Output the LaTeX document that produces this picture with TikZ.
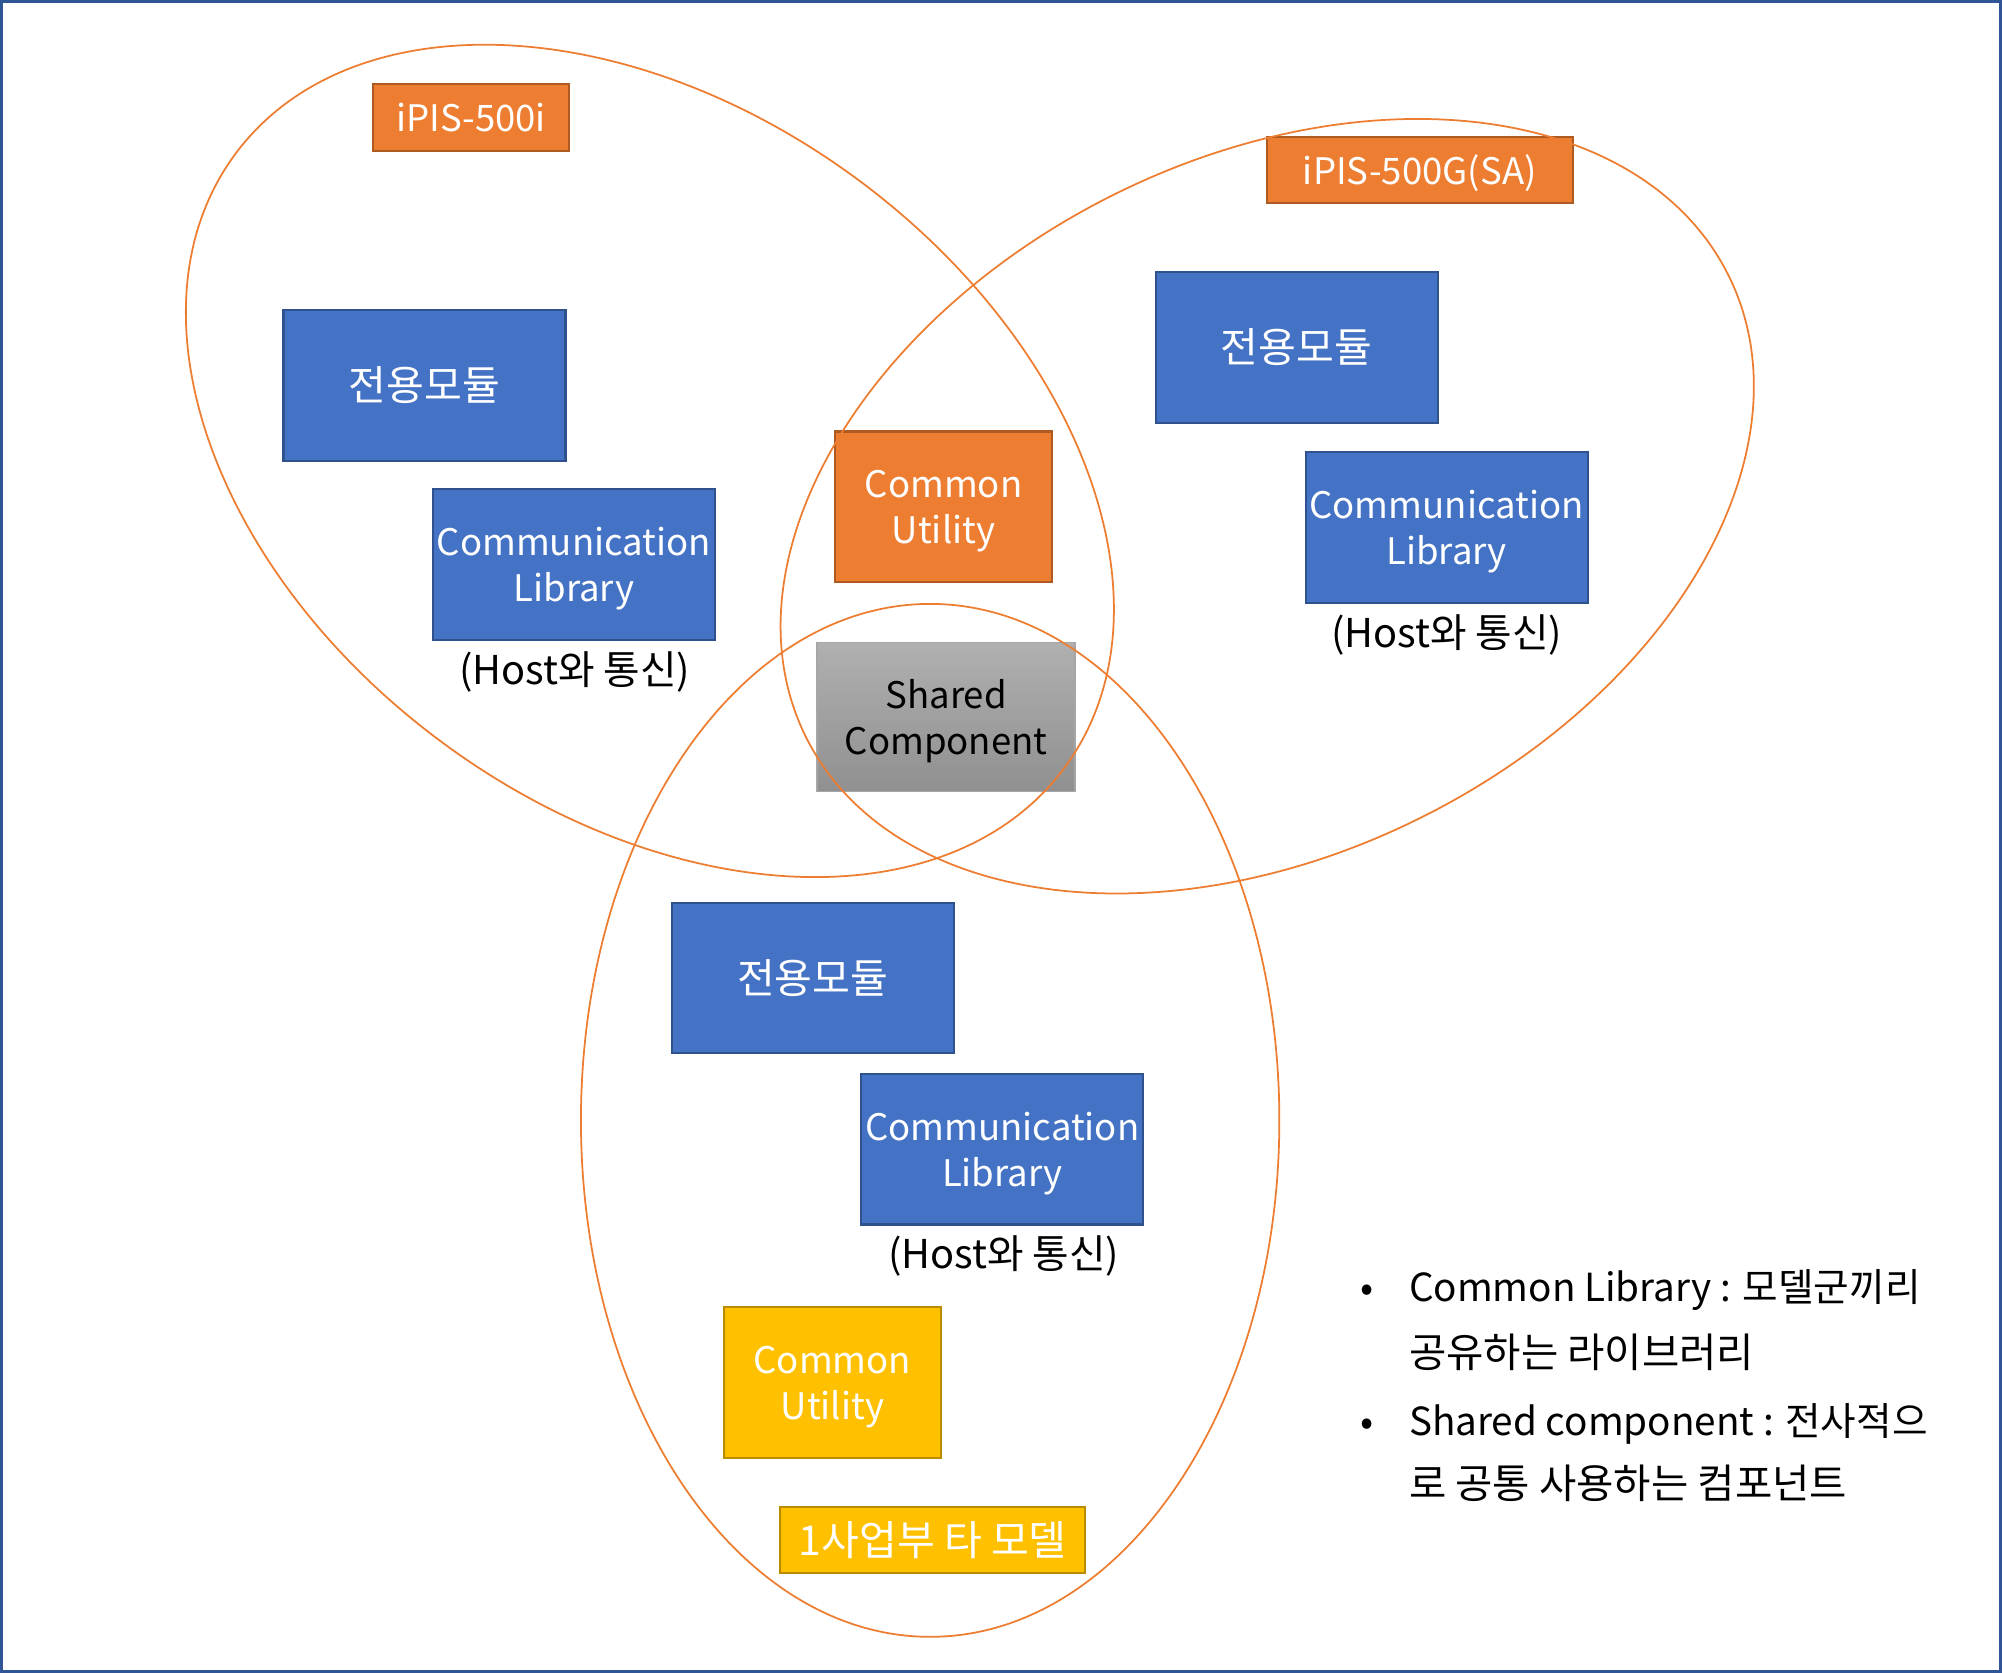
\documentclass[tikz,border=0pt]{standalone}
\usepackage{fontspec}
\setmainfont{Noto Sans CJK KR}
\newfontfamily\korfont[Scale=1.05]{Noto Sans CJK KR}
\newcommand{\kor}[1]{{\korfont #1}}
\usetikzlibrary{calc}

\definecolor{modblue}{HTML}{4472C4}
\definecolor{modblueline}{HTML}{2F528F}
\definecolor{utilorange}{HTML}{ED7D31}
\definecolor{utilorangeline}{HTML}{AE5A21}
\definecolor{etcyellow}{HTML}{FFC000}
\definecolor{etcyellowline}{HTML}{BC8C00}
\definecolor{sharedtop}{HTML}{B0B0B0}
\definecolor{sharedbottom}{HTML}{909090}
\definecolor{sharedline}{HTML}{A6A6A6}
\definecolor{frameblue}{HTML}{2F5597}

\tikzset{
  boxtext/.style={font=\fontsize{10.4pt}{13pt}\selectfont, align=center, inner sep=0pt},
  kortext/.style={font=\fontsize{11.7pt}{13pt}\selectfont},
  twolines/.style={text depth=0pt},
  modbox/.style={boxtext, draw=modblueline, fill=modblue, text=white, line width=0.6pt,
    minimum width=28.2mm, minimum height=15.07mm},
  modelbox/.style={boxtext, draw=#1line, fill=#1, text=white, line width=0.6pt,
    minimum height=6.64mm},
  utilbox/.style={boxtext, twolines, draw=#1line, fill=#1, text=white, line width=0.6pt,
    minimum width=21.7mm, minimum height=15.07mm},
  sharedbox/.style={boxtext, twolines, draw=sharedline, top color=sharedtop, bottom color=sharedbottom,
    text=black, line width=0.4pt, minimum width=25.8mm, minimum height=14.94mm},
  hostnote/.style={boxtext, font=\fontsize{11.3pt}{13pt}\selectfont, text=black},
  legend/.style={font=\fontsize{11pt}{13pt}\selectfont, inner sep=0pt, anchor=base west},
  group/.style={draw=utilorange, line width=0.5pt}
}

\begin{document}
\begin{tikzpicture}[x=0.12768mm,y=0.12768mm]
      \useasboundingbox (0,0) rectangle (1568,1310);

      % model names
      \node[modelbox=utilorange, minimum width=19.66mm] (ipis1) at (369,1218) {iPIS-500i};
      \node[modelbox=utilorange, twolines, minimum width=30.64mm] (ipis2) at (1112,1177) {iPIS-500G(SA)};
      \node[modelbox=etcyellow, kortext, minimum width=30.5mm] (other) at (730.5,104) {1사업부 타 모델};

      % iPIS-500i
      \node[modbox, kortext] (mod1) at (332.5,1008) {전용모듈};
      \node[modbox, twolines] (comm1) at (449.5,868) {Communication\\Library};
      \node[hostnote] (host1) at (450,784) {(Host와 통신)};

      % iPIS-500G(SA)
      \node[modbox, kortext] (mod2) at (1015.5,1038) {전용모듈};
      \node[modbox, twolines] (comm2) at (1133,897) {Communication\\Library};
      \node[hostnote] (host2) at (1133,813) {(Host와 통신)};

      % other models
      \node[modbox, kortext] (mod3) at (636.5,544) {전용모듈};
      \node[modbox, twolines] (comm3) at (785,410) {Communication\\Library};
      \node[hostnote] (host3) at (786,326) {(Host와 통신)};
      \node[utilbox=etcyellow] (util2) at (652,227) {Common\\Utility};

      % common parts
      \node[utilbox=utilorange] (util1) at (739,913) {Common\\Utility};
      \node[sharedbox] (shared) at (741,748.5) {Shared\\Component};

      % groups
      \draw[group] (509,949) ellipse [x radius=404, y radius=274, rotate=-36.5];
      \draw[group] (992.5,913.5) ellipse [x radius=404, y radius=272, rotate=26.7];
      \draw[group] (728.5,432.5) ellipse [x radius=273.5, y radius=404.5];

      % notes
      \node[legend, anchor=base] (bul1) at (1071,291) {•};
      \node[legend] (leg1) at (1103,291) {Common Library : 모델군끼리};
      \node[legend] (leg2) at (1103,239) {\kor{공유하는 라이브러리}};
      \node[legend, anchor=base] (bul2) at (1071,186) {•};
      \node[legend] (leg3) at (1103,186) {Shared component : 전사적으};
      \node[legend] (leg4) at (1103,136) {\kor{로 공통 사용하는 컴포넌트}};

      \draw[frameblue, line width=0.8pt] (1,1) rectangle (1567,1309);
    \end{tikzpicture}
\end{document}
